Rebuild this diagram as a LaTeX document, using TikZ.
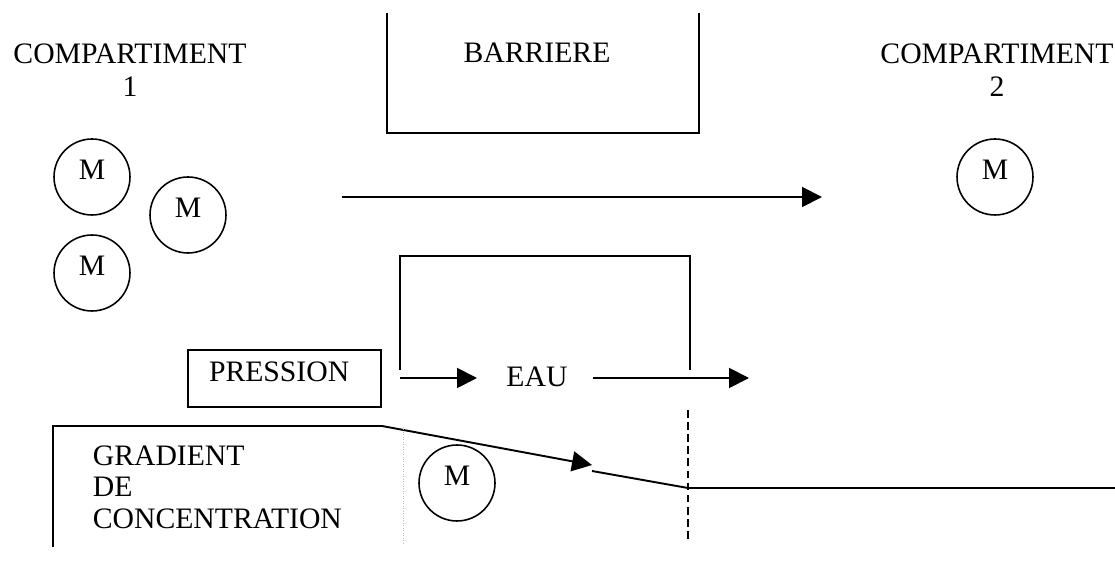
\documentclass[tikz,border=0pt]{standalone}
\usepackage{fontspec}
\setmainfont{Liberation Serif}
\usetikzlibrary{positioning, arrows.meta}

\tikzset{
    mol/.style={circle, draw, line width=0.9pt, minimum size=1.52cm, inner sep=0pt, text depth=0.28cm},
    flux/.style={-{Triangle[length=0.4cm, width=0.4cm]}},
    label/.style={align=center, anchor=base},
}

\begin{document}
\begin{tikzpicture}[x=0.02cm, y=-0.02cm, line width=1.1pt, font=\fontsize{16.9}{19.3}\selectfont]
    \useasboundingbox (0,0) rectangle (1115,580);

    % Compartments
    \node[label] (comp1) at (130,97) {COMPARTIMENT\\1};
    \node[label] (comp2) at (997,97) {COMPARTIMENT\\2};

    % Barrier
    \draw (387,13) -- (387,133) -- (699,133) -- (699,13);
    \node[label] (barr) at (537,63) {BARRIERE};

    % Molecules
    \node[mol] (m1) at (92,177) {M};
    \node[mol] (m2) at (188,215) {M};
    \node[mol] (m3) at (92,273) {M};
    \node[mol] (m4) at (995,177) {M};
    \node[mol] (m5) at (457,483) {M};

    % Flux M
    \coordinate (fa) at (342,197);
    \coordinate (fb) at (822,197);
    \draw[flux] (fa) -- (fb);

    % Pressure / water
    \node[draw, line width=0.9pt, minimum height=1.14cm, text width=3.02cm, inner xsep=0.42cm,
        align=left, text depth=0.26cm] (press) at (284.5,378.5) {PRESSION};
    \coordinate (w0) at (400,370);
    \coordinate (w1) at (400,256);
    \coordinate (w2) at (690,256);
    \coordinate (w3) at (690,370);
    \draw (w0) -- (w1) -- (w2) -- (w3);
    \node[label] (eau) at (537,387) {EAU};
    \coordinate (ea) at (400,378);
    \coordinate (eb) at (477,378);
    \coordinate (ec) at (593,378);
    \coordinate (ed) at (749,378);
    \draw[flux] (ea) -- (eb);
    \draw[flux] (ec) -- (ed);

    % Concentration gradient
    \node[align=left, anchor=base west, font=\fontsize{16.9}{17.8}\selectfont] (grad) at (86,528)
        {GRADIENT\\DE\\CONCENTRATION};
    \coordinate (g0) at (53,547);
    \coordinate (g1) at (53,426);
    \coordinate (g2) at (382,426);
    \coordinate (g3) at (592,465);
    \coordinate (g4) at (592,471);
    \coordinate (g5) at (688,488);
    \coordinate (g6) at (1115,488);
    \draw (g0) -- (g1) -- (g2);
    \draw[flux] (g2) -- (g3);
    \draw (g4) -- (g5) -- (g6);

    % Membrane limits
    \draw[gray!50, line width=0.4pt, densely dotted] (403,427) -- (403,543);
    \draw[dash pattern=on 4.3pt off 2.6pt] (688,410) -- (688,539);
\end{tikzpicture}
\end{document}
